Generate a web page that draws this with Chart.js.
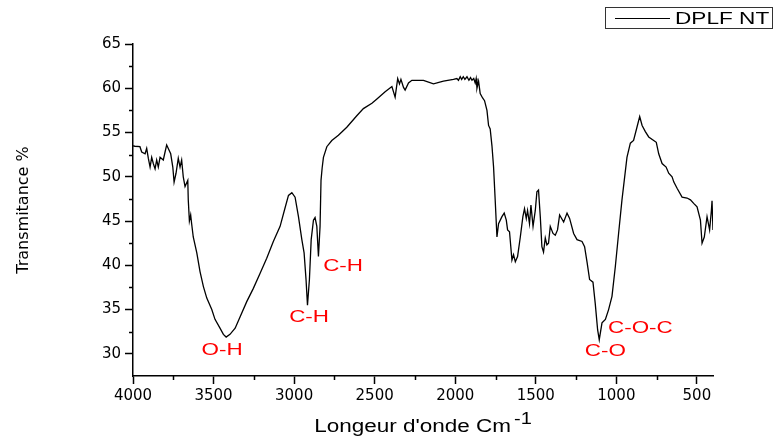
<!DOCTYPE html>
<html>
<head>
<meta charset="utf-8">
<script src="https://cdn.jsdelivr.net/npm/chart.js@4.4.0/dist/chart.umd.min.js"></script>
<style>
  html, body { margin: 0; padding: 0; background: #fff; }
</style>
</head>
<body>
<canvas id="chart" width="778" height="439"></canvas>
<script>
// spectrum (wavenumber cm-1 / transmittance %)
var wavenumbers = [4000,3988,3957,3946,3925,3915,3905,3894,3884,3874,3863,3853,3843,3832,3812,3801,3791,3781,3766,3753,
  3745,3733,3719,3708,3698,3688,3677,3660,3657,3650,3642,3636,3626,3604,3584,3563,3542,3511,3491,3460,
  3439,3422,3398,3366,3335,3294,3253,3211,3170,3129,3087,3056,3035,3014,2994,2973,2952,2938,2926,2917,
  2905,2894,2880,2870,2859,2849,2839,2833,2826,2818,2797,2766,2725,2673,2611,2570,2517,2486,2435,2393,
  2373,2357,2346,2337,2321,2311,2290,2269,2197,2135,2073,2011,1990,1980,1969,1960,1950,1940,1927,1915,
  1905,1896,1885,1876,1870,1865,1855,1845,1830,1818,1803,1793,1783,1772,1762,1752,1741,1731,1710,1696,
  1683,1675,1663,1648,1638,1627,1613,1596,1580,1570,1559,1551,1539,1530,1517,1503,1493,1483,1472,1462,
  1452,1441,1431,1421,1410,1393,1379,1365,1352,1327,1306,1290,1265,1244,1213,1197,1182,1166,1145,1131,
  1116,1106,1089,1068,1048,1027,1006,986,965,934,913,893,872,855,840,820,799,768,752,737,
  716,691,675,654,643,623,592,561,540,520,499,478,468,454,437,421,410,406,400];
var transmittance = [53.5,53.45,53.4,52.8,52.6,53.2,52.1,51.1,52.2,51.5,50.9,51.9,51.1,52.2,51.9,52.8,53.6,53.2,52.6,51.1,
  49.4,50.4,52.1,51.1,51.9,50.0,48.9,49.6,47.4,45.0,45.7,44.7,43.2,41.4,39.3,37.6,36.3,35.0,33.9,32.9,
  32.2,31.9,32.2,32.9,34.2,35.9,37.4,39.1,40.8,42.7,44.4,46.5,47.9,48.2,47.7,45.5,42.9,41.4,38.4,35.5,
  38.4,42.9,45.1,45.4,44.4,41.0,44.4,49.6,51.0,52.2,53.4,54.1,54.7,55.6,56.9,57.7,58.3,58.8,59.6,60.2,
  59.0,61.1,60.5,61.0,60.1,59.8,60.6,60.9,60.9,60.5,60.8,61.0,61.1,60.9,61.3,61.0,61.3,61.0,61.3,60.9,
  61.2,60.9,61.1,60.6,61.1,60.0,60.8,59.4,58.9,58.6,57.5,55.8,55.4,53.5,51.1,47.4,43.2,44.7,45.5,45.9,
  45.1,44.0,43.8,40.6,41.2,40.4,41.0,43.2,45.5,46.4,45.3,46.2,44.7,46.8,44.4,46.2,48.3,48.5,45.5,42.1,
  41.5,43.1,42.3,42.5,44.4,43.6,43.4,44.0,45.7,44.9,45.9,45.3,43.6,42.9,42.7,42.1,40.4,38.4,38.1,35.7,
  32.7,31.6,33.5,33.9,35.0,36.5,39.9,43.6,47.4,52.2,53.8,54.1,55.6,56.8,55.8,55.1,54.5,54.1,53.9,52.6,
  51.5,51.1,50.4,50.0,49.4,48.7,47.7,47.6,47.4,47.0,46.6,45.1,42.5,43.2,45.5,44.0,46.2,47.3,44.0];

var xTicks = [4000,3500,3000,2500,2000,1500,1000,500];
var yTicks = [30,35,40,45,50,55,60,65];

// band labels, placed in data units
var bandNames = ['O-H','C-H','C-H','C-O-C','C-O'];
var bandX = [3447,2907,2696,851,1068];
var bandY = [30.4,34.1,39.9,32.8,30.25];

var xTitle = "Longeur d'onde Cm";
var xTitleSup = '-1';

function wideText(ctx, text, x, y, sx) {
  ctx.save();
  ctx.translate(x, y);
  ctx.scale(sx, 1);
  ctx.fillText(text, 0, 0);
  ctx.restore();
}

var extras = {
  id: 'extras',
  afterDraw: function(chart) {
    var ctx = chart.ctx;
    var xs = chart.scales.x, ys = chart.scales.y;
    var area = chart.chartArea;
    ctx.save();

    // minor ticks
    ctx.strokeStyle = '#000';
    ctx.lineWidth = 1.5;
    for (var v = 3750; v > 400; v -= 500) {
      var px = Math.round(xs.getPixelForValue(v)) + 0.5;
      ctx.beginPath(); ctx.moveTo(px, area.bottom); ctx.lineTo(px, area.bottom + 4); ctx.stroke();
    }
    for (var w = 32.5; w < 65; w += 5) {
      var py = Math.round(ys.getPixelForValue(w)) + 0.5;
      ctx.beginPath(); ctx.moveTo(area.left, py); ctx.lineTo(area.left - 4, py); ctx.stroke();
    }

    // x axis title with superscript
    ctx.fillStyle = '#000';
    ctx.textAlign = 'left';
    ctx.textBaseline = 'alphabetic';
    ctx.font = '18px "Liberation Sans", Arial, sans-serif';
    var mainW = ctx.measureText(xTitle).width * 1.25;
    ctx.font = '16px "Liberation Sans", Arial, sans-serif';
    var supW = ctx.measureText(xTitleSup).width * 1.25;
    var startX = (area.left + area.right) / 2 - (mainW + 3 + supW) / 2;
    ctx.font = '18px "Liberation Sans", Arial, sans-serif';
    wideText(ctx, xTitle, startX, 432, 1.25);
    ctx.font = '16px "Liberation Sans", Arial, sans-serif';
    wideText(ctx, xTitleSup, startX + mainW + 3, 424, 1.25);

    // band labels
    ctx.fillStyle = '#ff0000';
    ctx.font = '16px "Liberation Sans", Arial, sans-serif';
    ctx.textAlign = 'center';
    ctx.textBaseline = 'middle';
    for (var i = 0; i < bandNames.length; i++) {
      wideText(ctx, bandNames[i], xs.getPixelForValue(bandX[i]), ys.getPixelForValue(bandY[i]), 1.4);
    }

    // legend box
    var ds = chart.data.datasets[0];
    ctx.strokeStyle = '#333';
    ctx.lineWidth = 1;
    ctx.strokeRect(605.5, 7.5, 167, 21);
    ctx.strokeStyle = ds.borderColor;
    ctx.beginPath(); ctx.moveTo(615, 18.5); ctx.lineTo(670, 18.5); ctx.stroke();
    ctx.fillStyle = '#000';
    ctx.font = '17px "Liberation Sans", Arial, sans-serif';
    ctx.textAlign = 'left';
    wideText(ctx, ds.label, 675, 19, 1.33);
    ctx.restore();
  }
};

var points = wavenumbers.map(function(x, i) { return {x: x, y: transmittance[i]}; });

new Chart(document.getElementById('chart').getContext('2d'), {
  type: 'line',
  data: {
    datasets: [{
      label: 'DPLF NT',
      data: points,
      borderColor: '#000',
      borderWidth: 1.3,
      pointRadius: 0,
      tension: 0,
      fill: false
    }]
  },
  options: {
    responsive: false,
    animation: false,
    layout: { padding: { top: 44, right: 65, left: 0, bottom: 0 } },
    plugins: { legend: { display: false }, tooltip: { enabled: false } },
    scales: {
      x: {
        type: 'linear',
        reverse: true,
        min: 400,
        max: 4000,
        afterBuildTicks: function(scale) { scale.ticks = xTicks.map(function(v) { return {value: v}; }); },
        afterFit: function(scale) { scale.height = 63; },
        grid: { drawOnChartArea: false, tickLength: 8, tickColor: '#000', tickWidth: 1.5 },
        border: { color: '#000', width: 1.5 },
        ticks: {
          color: '#000', padding: 3, maxRotation: 0,
          font: { family: 'DejaVu Sans', size: 15 },
          callback: function(v) { return String(v); }
        },
        title: { display: false }
      },
      y: {
        min: 27.5,
        max: 65,
        afterBuildTicks: function(scale) { scale.ticks = yTicks.map(function(v) { return {value: v}; }); },
        afterFit: function(scale) { scale.width = 133; },
        grid: { drawOnChartArea: false, tickLength: 8, tickColor: '#000', tickWidth: 1.5 },
        border: { color: '#000', width: 1.5 },
        ticks: {
          color: '#000', padding: 4,
          font: { family: 'DejaVu Sans', size: 15 },
          callback: function(v) { return String(v); }
        },
        title: {
          display: true,
          text: 'Transmitance %',
          color: '#000',
          font: { family: 'DejaVu Sans', size: 16, lineHeight: 1.2 },
          padding: { top: 14, bottom: 0 }
        }
      }
    }
  },
  plugins: [extras]
});
</script>
</body>
</html>
